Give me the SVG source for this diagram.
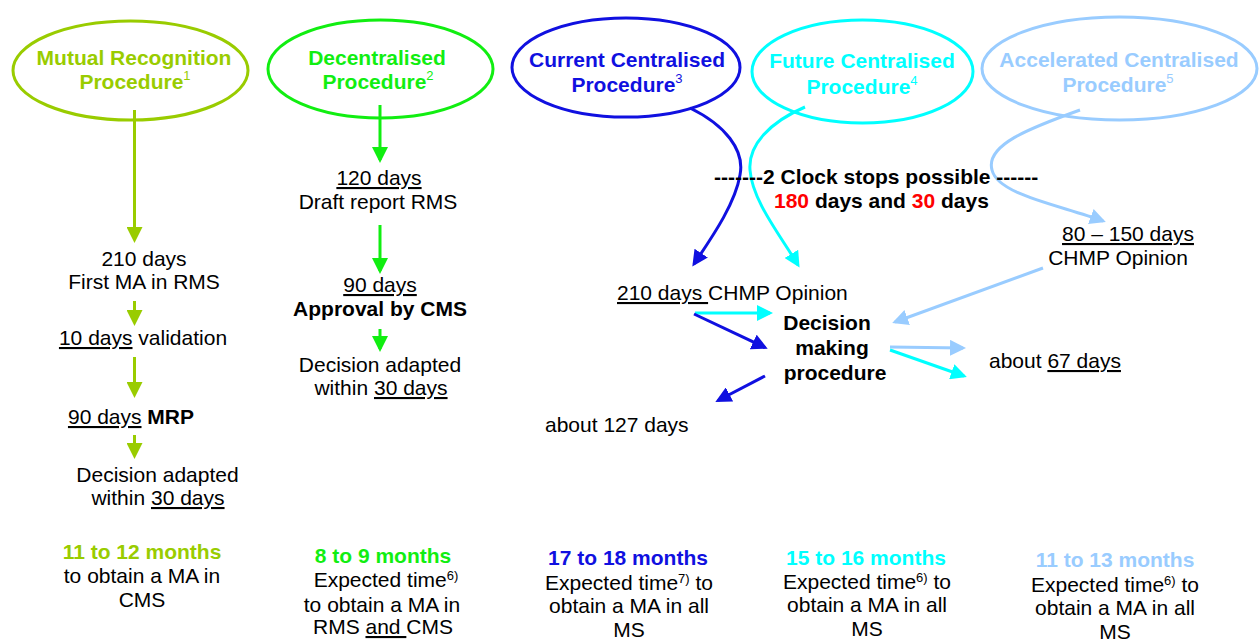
<svg xmlns="http://www.w3.org/2000/svg" width="1260" height="642" viewBox="0 0 1260 642">
<style>
text{font-family:"Liberation Sans",Arial,Helvetica,sans-serif;font-size:21px;fill:#000}
.m{text-anchor:middle}
.b{font-weight:bold}
.u{text-decoration:underline}
.sup{font-size:13px;font-weight:normal}
.ell{fill:none;stroke-width:3}
.ln{fill:none;stroke-width:3}
.g1{fill:#99cc00}.g2{fill:#11ee11}.g3{fill:#1010e0}.g4{fill:#00ffff}.g5{fill:#99ccff}.red{fill:#ff0000}
.s1{stroke:#99cc00}.s2{stroke:#11ee11}.s3{stroke:#1010e0}.s4{stroke:#00ffff}.s5{stroke:#99ccff}
</style>
<defs>
<marker id="a1" viewBox="0 0 16 16" refX="13" refY="8" markerWidth="16" markerHeight="16" markerUnits="userSpaceOnUse" orient="auto"><path d="M0,0 L16,8 L0,16 z" fill="#99cc00"/></marker>
<marker id="a2" viewBox="0 0 16 16" refX="13" refY="8" markerWidth="16" markerHeight="16" markerUnits="userSpaceOnUse" orient="auto"><path d="M0,0 L16,8 L0,16 z" fill="#11ee11"/></marker>
<marker id="a3" viewBox="0 0 16 16" refX="13" refY="8" markerWidth="16" markerHeight="16" markerUnits="userSpaceOnUse" orient="auto"><path d="M0,0 L16,8 L0,16 z" fill="#1010e0"/></marker>
<marker id="a4" viewBox="0 0 16 16" refX="13" refY="8" markerWidth="16" markerHeight="16" markerUnits="userSpaceOnUse" orient="auto"><path d="M0,0 L16,8 L0,16 z" fill="#00ffff"/></marker>
<marker id="a5" viewBox="0 0 16 16" refX="13" refY="8" markerWidth="16" markerHeight="16" markerUnits="userSpaceOnUse" orient="auto"><path d="M0,0 L16,8 L0,16 z" fill="#99ccff"/></marker>
</defs>

<g id="connectors">
<path class="ln s1" d="M134.5,110 V240" marker-end="url(#a1)"/>
<path class="ln s1" d="M134.5,301 V323" marker-end="url(#a1)"/>
<path class="ln s1" d="M134.5,357 V395" marker-end="url(#a1)"/>
<path class="ln s1" d="M134.5,435 V456" marker-end="url(#a1)"/>
<path class="ln s2" d="M380,105 V160" marker-end="url(#a2)"/>
<path class="ln s2" d="M380,225 V271" marker-end="url(#a2)"/>
<path class="ln s2" d="M380,329 V349" marker-end="url(#a2)"/>
<path class="ln s3" d="M690,108 C725,125 745,150 740,175 C735,205 710,240 694,264" marker-end="url(#a3)"/>
<path class="ln s4" d="M805,107 C770,122 748,145 750,170 C752,200 780,235 798,265" marker-end="url(#a4)"/>
<path class="ln s5" d="M1080,110 C1030,128 985,145 992,170 C998,195 1060,205 1103,221" marker-end="url(#a5)"/>
<path class="ln s4" d="M695,313 L770,313" marker-end="url(#a4)"/>
<path class="ln s3" d="M694,314 L765,347.5" marker-end="url(#a3)"/>
<path class="ln s3" d="M765,376 L718,400.5" marker-end="url(#a3)"/>
<path class="ln s5" d="M1043,268 L895,322" marker-end="url(#a5)"/>
<path class="ln s5" d="M890,347 L963,348" marker-end="url(#a5)"/>
<path class="ln s4" d="M890,350 L964,376" marker-end="url(#a4)"/>
</g>

<g id="mrp">
<ellipse class="ell s1" cx="130.5" cy="70.5" rx="117.5" ry="49.5"/>
<text class="m b g1" x="134" y="65">Mutual Recognition</text>
<text class="m b g1" x="135" y="89">Procedure<tspan class="sup g1" dy="-9">1</tspan></text>
</g>
<g id="dcp">
<ellipse class="ell s2" cx="380.5" cy="69" rx="112.5" ry="49"/>
<text class="m b g2" x="377" y="65">Decentralised</text>
<text class="m b g2" x="378" y="89">Procedure<tspan class="sup g2" dy="-9">2</tspan></text>
</g>
<g id="ccp">
<ellipse class="ell s3" cx="626" cy="67.5" rx="114" ry="49.5"/>
<text class="m b g3" x="627" y="67">Current Centralised</text>
<text class="m b g3" x="627" y="92">Procedure<tspan class="sup g3" dy="-9">3</tspan></text>
</g>
<g id="fcp">
<ellipse class="ell s4" cx="862.5" cy="71.5" rx="110.5" ry="51.5"/>
<text class="m b g4" x="862" y="68">Future Centralised</text>
<text class="m b g4" x="862" y="94">Procedure<tspan class="sup g4" dy="-9">4</tspan></text>
</g>
<g id="acp">
<ellipse class="ell s5" cx="1119.5" cy="68.5" rx="137.5" ry="51.5"/>
<text class="m b g5" x="1119" y="67">Accelerated Centralised</text>
<text class="m b g5" x="1118" y="92">Procedure<tspan class="sup g5" dy="-9">5</tspan></text>
</g>

<g id="mrp-steps">
<text class="m" x="144" y="266">210 days</text>
<text class="m" x="144" y="289">First MA in RMS</text>
<text class="m" x="143" y="345"><tspan class="u">10 days</tspan> validation</text>
<text class="m" x="131" y="424"><tspan class="u">90 days</tspan> <tspan class="b">MRP</tspan></text>
<text class="m" x="157.5" y="482">Decision adapted</text>
<text class="m" x="158" y="505">within <tspan class="u">30 days</tspan></text>
</g>
<g id="dcp-steps">
<text class="m u" x="379" y="185">120 days</text>
<text class="m" x="378" y="209">Draft report RMS</text>
<text class="m u" x="380" y="292">90 days</text>
<text class="m b" x="380" y="316">Approval by CMS</text>
<text class="m" x="380" y="372">Decision adapted</text>
<text class="m" x="381" y="395">within <tspan class="u">30 days</tspan></text>
</g>
<g id="clock-stops">
<text class="b" x="714" y="184">-------2 Clock stops possible ------</text>
<text class="b" x="774" y="208"><tspan class="red">180</tspan> days and <tspan class="red">30</tspan> days</text>
</g>
<g id="chmp-opinion">
<text x="617" y="300"><tspan class="u">210 days </tspan>CHMP Opinion</text>
</g>
<g id="chmp-opinion-acc">
<text class="m u" x="1128" y="241">80 – 150 days</text>
<text class="m" x="1118" y="265">CHMP Opinion</text>
</g>
<g id="decision">
<text class="m b" x="827" y="330">Decision</text>
<text class="m b" x="832" y="355">making</text>
<text class="m b" x="835" y="380">procedure</text>
</g>
<g id="about-67">
<text x="989" y="368">about <tspan class="u">67 days</tspan></text>
</g>
<g id="about-127">
<text x="545" y="432">about 127 days</text>
</g>

<g id="result-mrp">
<text class="m b g1" x="142" y="559">11 to 12 months</text>
<text class="m" x="142" y="583">to obtain a MA in</text>
<text class="m" x="142" y="607">CMS</text>
</g>
<g id="result-dcp">
<text class="m b g2" x="383" y="563">8 to 9 months</text>
<text class="m" x="386" y="587">Expected time<tspan class="sup" dy="-7">6)</tspan></text>
<text class="m" x="382" y="612">to obtain a MA in</text>
<text class="m" x="383" y="634">RMS <tspan class="u">and </tspan>CMS</text>
</g>
<g id="result-ccp">
<text class="m b g3" x="628" y="565">17 to 18 months</text>
<text class="m" x="629" y="590">Expected time<tspan class="sup" dy="-7">7)</tspan><tspan dy="7"> to</tspan></text>
<text class="m" x="629" y="613">obtain a MA in all</text>
<text class="m" x="629" y="637">MS</text>
</g>
<g id="result-fcp">
<text class="m b g4" x="866" y="565">15 to 16 months</text>
<text class="m" x="867" y="589">Expected time<tspan class="sup" dy="-7">6)</tspan><tspan dy="7"> to</tspan></text>
<text class="m" x="867" y="612">obtain a MA in all</text>
<text class="m" x="867" y="636">MS</text>
</g>
<g id="result-acp">
<text class="m b g5" x="1115" y="567">11 to 13 months</text>
<text class="m" x="1115" y="592">Expected time<tspan class="sup" dy="-7">6)</tspan><tspan dy="7"> to</tspan></text>
<text class="m" x="1115" y="615">obtain a MA in all</text>
<text class="m" x="1115" y="639">MS</text>
</g>
</svg>
